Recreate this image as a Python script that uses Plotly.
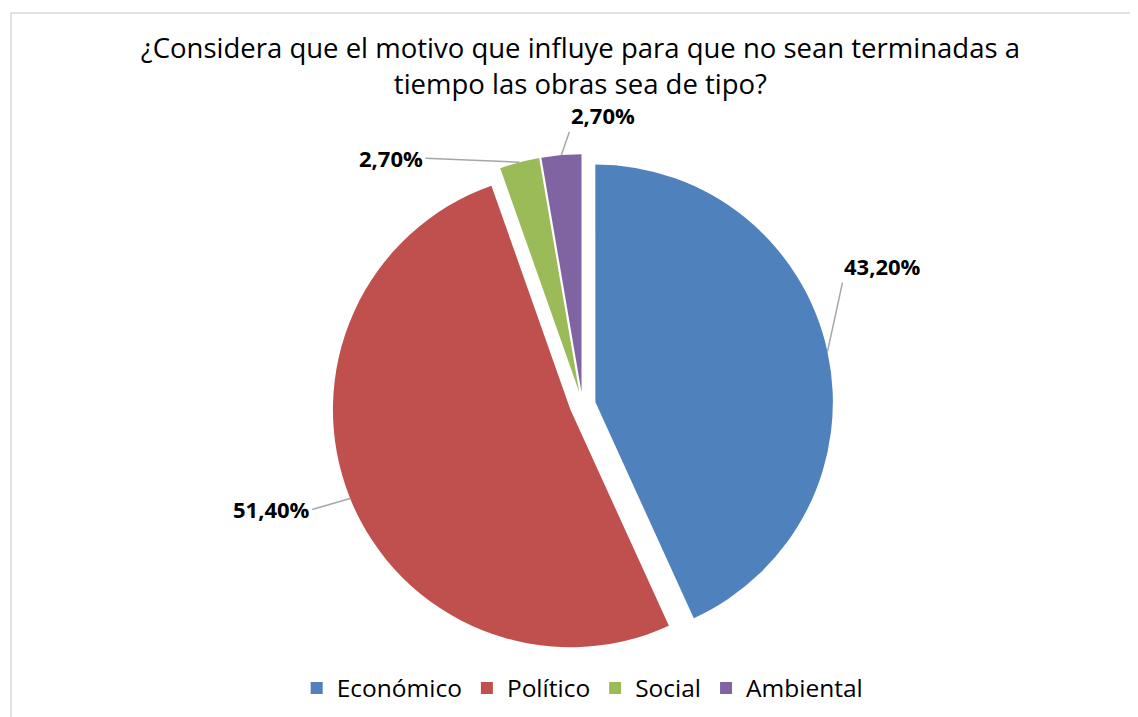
import math
import plotly.graph_objects as go

categorias = ['Económico', 'Político', 'Social', 'Ambiental']
porcentajes = [43.2, 51.4, 2.7, 2.7]
colores = ['#4F81BD', '#C0504D', '#9BBB59', '#8064A2']
etiquetas = [f"{v:.2f}%".replace('.', ',') for v in porcentajes]

W, H = 1138, 717
dom_x = [0.2846, 0.7252]
dom_y = [0.0971, 0.7961]
pull = 0.055
FUENTE = 'Open Sans'

fig = go.Figure()
fig.add_trace(go.Pie(
    labels=categorias,
    values=porcentajes,
    sort=False,
    direction='clockwise',
    rotation=0,
    pull=[pull] * len(porcentajes),
    marker=dict(colors=colores, line=dict(width=0)),
    textinfo='none',
    hoverinfo='label+percent',
    domain=dict(x=dom_x, y=dom_y),
))

# leader lines + labels, anchored on the middle of each slice's outer arc
cx = (dom_x[0] + dom_x[1]) / 2
cy = (dom_y[0] + dom_y[1]) / 2
R = min((dom_x[1] - dom_x[0]) * W, (dom_y[1] - dom_y[0]) * H) / 2
# text offsets (px) and anchors for each label
colocacion = [
    (15, -69, 'left', 'bottom'),
    (-38, 11, 'right', 'middle'),
    (-94, -4, 'right', 'middle'),
    (8, -23, 'left', 'bottom'),
]
total = sum(porcentajes)
acum = 0
for v, txt, (ax, ay, xa, ya) in zip(porcentajes, etiquetas, colocacion):
    mid = (acum + v / 2) / total
    acum += v
    th = 2 * math.pi * mid
    fig.add_annotation(
        x=cx + R * math.sin(th) / W,
        y=cy + R * math.cos(th) / H,
        xref='paper', yref='paper',
        text=f"<b>{txt}</b>",
        showarrow=True, arrowhead=0, arrowwidth=1.5, arrowcolor='#A6A6A6',
        standoff=0,
        ax=ax, ay=ay, xanchor=xa, yanchor=ya,
        font=dict(family=FUENTE, size=22, color='#000000'),
    )

# chart border
fig.add_shape(type='rect', xref='paper', yref='paper',
              x0=3 / W, x1=1.01, y0=-0.01, y1=1 - 5 / H,
              line=dict(color='#D9D9D9', width=1.5))

fig.update_layout(
    width=W, height=H,
    margin=dict(l=0, r=0, t=0, b=0),
    paper_bgcolor='white',
    plot_bgcolor='white',
    title=dict(
        text='¿Considera que el motivo que influye para que no sean terminadas a<br>tiempo las obras sea de tipo?',
        x=0.503, xanchor='center',
        y=1 - 50 / H, yanchor='top',
        font=dict(family=FUENTE, size=27.5, color='#000000'),
    ),
    legend=dict(
        orientation='h',
        x=0.505, xanchor='center',
        y=1 - 680 / H, yanchor='middle',
        font=dict(family=FUENTE, size=24.5, color='#000000'),
        itemsizing='constant',
    ),
    font=dict(family=FUENTE),
)

fig.write_html("out.html")
